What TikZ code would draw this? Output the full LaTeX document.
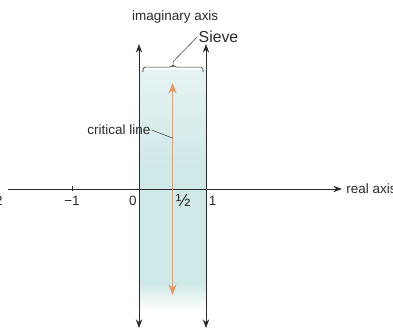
\documentclass[tikz,border=0pt]{standalone}
\usepackage{fontspec}
\setmainfont{Liberation Sans}
\usepackage{tikz}
\usepackage{xcolor}
\usetikzlibrary{arrows.meta,positioning,calc}
\definecolor{ink}{HTML}{2A2A2A}
\definecolor{muted}{HTML}{4A4A4A}
\definecolor{stripc}{HTML}{CFE8E8}
\definecolor{striptop}{HTML}{E6F3F3}
\definecolor{critc}{HTML}{DCA680}
\definecolor{crithead}{HTML}{EB955E}
\tikzset{
  axisline/.style={-{Stealth[length=2.6mm,width=1.9mm]}, line width=0.65pt, draw=ink},
  bothway/.style={{Stealth[length=2.6mm,width=1.9mm]}-{Stealth[length=2.6mm,width=1.9mm]},
                  line width=0.65pt, draw=ink},
  critarrow/.style={{Stealth[length=3.2mm,width=2.4mm,color=crithead]}-{Stealth[length=3.2mm,width=2.4mm,color=crithead]},
                    line width=0.9pt, draw=critc},
  leader/.style={line width=0.5pt, draw=muted},
  axlabel/.style={font=\fontsize{11.5}{13}\selectfont, text=ink, inner sep=1pt},
  bigtag/.style={font=\fontsize{13.5}{15}\selectfont, text=ink, inner sep=1pt}
}
\begin{document}
\begin{tikzpicture}[x=2.01cm,y=2.01cm]
  \useasboundingbox (-2.075,-2.119) rectangle (3.791,2.821);
  % the strip 0 < Re(s) < 1
  \shade[top color=striptop, bottom color=stripc] (0,1.776) rectangle (1,0.3);
  \fill[stripc] (0,0.3) rectangle (1,-1.4);
  \shade[top color=stripc, bottom color=white] (0,-1.4) rectangle (1,-1.806);
  % real axis
  \coordinate (xstart) at (-1.955,0);
  \coordinate (xend) at (3.03,0);
  \draw[axisline] (xstart) -- (xend);
  \node[axlabel, anchor=west] (realtag) at (3.075,0) {real axis};
  \draw[line width=0.65pt, draw=ink] (-1,0.05) -- (-1,-0.03);
  \node[axlabel, anchor=east] (lmtwo) at (-2.015,-0.17) {−2};
  \node[axlabel] (lmone) at (-1,-0.17) {−1};
  \node[axlabel] (lzero) at (-0.09,-0.17) {0};
  \node[axlabel, font=\fontsize{15}{17}\selectfont] (lhalf) at (0.66,-0.17) {½};
  \node[axlabel] (lone) at (1.1,-0.17) {1};
  % strip borders
  \coordinate (zerotop) at (0,2.164);
  \coordinate (zerobot) at (0,-2.075);
  \coordinate (onetop) at (1,2.164);
  \coordinate (onebot) at (1,-2.075);
  \draw[bothway] (zerobot) -- (zerotop);
  \draw[bothway] (onebot) -- (onetop);
  \node[axlabel] (imagtag) at (0.54,2.567) {imaginary axis};
  % critical line
  \coordinate (critbot) at (0.5,-1.582);
  \coordinate (crittop) at (0.5,1.582);
  \draw[critarrow] (critbot) -- (crittop);
  \coordinate (critpt) at (0.5,0.76);
  \node[axlabel, anchor=east] (crittag) at (0.19,0.88) {critical line};
  \draw[leader] (crittag.east) -- (critpt);
  % sieve bracket
  \coordinate (bracetip) at (0.508,1.85);
  \draw[leader, draw=ink, rounded corners=1.5pt] (0.06,1.746) -- (0.06,1.82) -- (0.485,1.82)
       -- (bracetip) -- (0.531,1.82) -- (0.955,1.82) -- (0.955,1.746);
  \node[bigtag, anchor=west] (sieve) at (0.87,2.27) {Sieve};
  \draw[leader] (bracetip) -- ++(0,0.05) -- (sieve.west);
\end{tikzpicture}
\end{document}
